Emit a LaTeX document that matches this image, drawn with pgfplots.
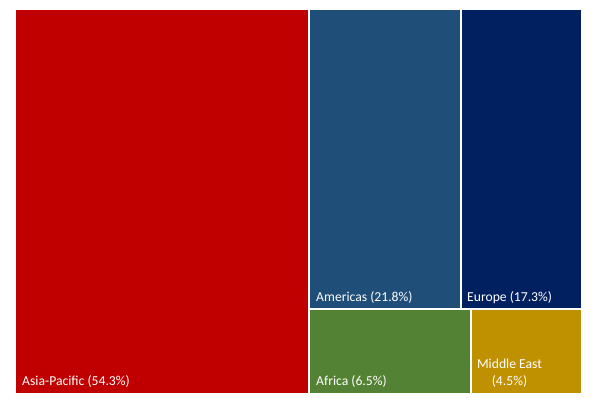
\documentclass[border=0pt]{standalone}
\usepackage{pgfplots}
\pgfplotsset{compat=1.18}
\usepackage{fontspec}
\setmainfont{Carlito}
\definecolor{cAsia}{HTML}{C00000}
\definecolor{cAmer}{HTML}{1F4E79}
\definecolor{cEuro}{HTML}{002060}
\definecolor{cAfri}{HTML}{548235}
\definecolor{cMide}{HTML}{BF9000}
\tikzset{lbl/.style={font=\fontsize{13.7}{17}\selectfont, text=white, inner sep=0pt}}
\begin{document}
\begin{tikzpicture}
\begin{axis}[
  scale only axis, width=599bp, height=398bp,
  xmin=0, xmax=599, ymin=0, ymax=398, y dir=reverse,
  hide axis, clip=false,
]
% Asia-Pacific 54.3%
\addplot[fill=cAsia, draw=none] coordinates {(16,10) (308.2,10) (308.2,392.5) (16,392.5)} -- cycle;
% Americas 21.8%
\addplot[fill=cAmer, draw=none] coordinates {(310.2,10) (460.3,10) (460.3,308.2) (310.2,308.2)} -- cycle;
% Europe 17.3%
\addplot[fill=cEuro, draw=none] coordinates {(462.3,10) (581,10) (581,308.2) (462.3,308.2)} -- cycle;
% Africa 6.5%
\addplot[fill=cAfri, draw=none] coordinates {(310.2,310.2) (469.6,310.2) (469.6,392.5) (310.2,392.5)} -- cycle;
% Middle East 4.5%
\addplot[fill=cMide, draw=none] coordinates {(471.6,310.2) (581,310.2) (581,392.5) (471.6,392.5)} -- cycle;
\node[lbl, anchor=base west] at (axis cs:22,385.5) {Asia-Pacific (54.3\%)};
\node[lbl, anchor=base west] at (axis cs:316,301) {Americas (21.8\%)};
\node[lbl, anchor=base west] at (axis cs:467,301) {Europe (17.3\%)};
\node[lbl, anchor=base west] at (axis cs:316,385.5) {Africa (6.5\%)};
\node[lbl, anchor=base] at (axis cs:509.5,368) {Middle East};
\node[lbl, anchor=base] at (axis cs:509.5,385.5) {(4.5\%)};
\end{axis}
\path (0,0) rectangle (599bp,398bp);
\end{tikzpicture}
\end{document}
